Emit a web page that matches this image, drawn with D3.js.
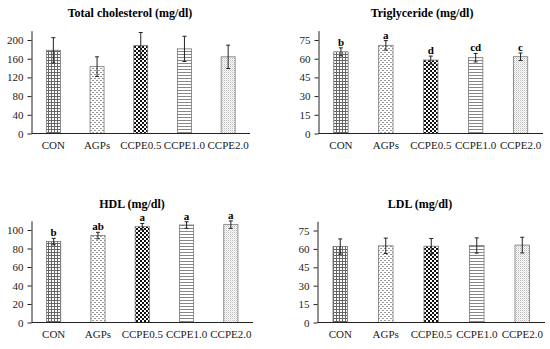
<!DOCTYPE html>
<html>
<head>
<meta charset="utf-8">
<script src="https://cdn.jsdelivr.net/npm/d3@7"></script>
<style>
  body { margin: 0; background: #fff; }
  svg { display: block; }
  svg text { font-family: "Palatino Linotype", "Book Antiqua", "Liberation Serif", serif; }
</style>
</head>
<body>
<svg id="chart" width="550" height="349"></svg>
<script>
// groups on the x axis
const groups = ['CON', 'AGPs', 'CCPE0.5', 'CCPE1.0', 'CCPE2.0']

// mean values and SEM
const tcMean = [178, 143, 188, 181, 164]
const tcErr = [27, 21, 28, 27, 25]
const tgMean = [65.5, 70.7, 58.9, 60.8, 61.6]
const tgErr = [3.2, 3.8, 3.2, 3.4, 3.0]
const tgLetters = ['b', 'a', 'd', 'cd', 'c']
const hdlMean = [87.5, 94, 103.6, 105.4, 105.8]
const hdlErr = [3.5, 3.5, 3.5, 3.5, 4]
const hdlLetters = ['b', 'ab', 'a', 'a', 'a']
const ldlMean = [61.9, 62.5, 62.2, 62.8, 63.1]
const ldlErr = [6.2, 6.3, 6.3, 6.2, 6.4]

// tick labels per panel
const tcTicks = [0, 40, 80, 120, 160, 200]
const tgTicks = [0, 15, 30, 45, 60, 75]
const hdlTicks = [0, 20, 40, 60, 80, 100]
const ldlTicks = [0, 15, 30, 45, 60, 75]

const svg = d3.select('#chart')
const defs = svg.append('defs')
const serif = '"Palatino Linotype", "Book Antiqua", "Liberation Serif", serif'

// fill patterns, one per group
function makePatterns() {
  // small grid
  let p = defs.append('pattern').attr('id', 'pat0').attr('patternUnits', 'userSpaceOnUse')
    .attr('width', 3).attr('height', 3)
  p.append('rect').attr('width', 3).attr('height', 3).attr('fill', '#fff')
  p.append('rect').attr('width', 3).attr('height', 1).attr('fill', '#666')
  p.append('rect').attr('width', 1).attr('height', 3).attr('fill', '#666')

  // sparse dashes
  p = defs.append('pattern').attr('id', 'pat1').attr('patternUnits', 'userSpaceOnUse')
    .attr('width', 4).attr('height', 4)
  p.append('rect').attr('width', 4).attr('height', 4).attr('fill', '#fff')
  p.append('rect').attr('x', 0).attr('y', 0).attr('width', 2).attr('height', 1).attr('fill', '#999')
  p.append('rect').attr('x', 2).attr('y', 2).attr('width', 2).attr('height', 1).attr('fill', '#999')

  // checkerboard
  p = defs.append('pattern').attr('id', 'pat2').attr('patternUnits', 'userSpaceOnUse')
    .attr('width', 4).attr('height', 4)
  p.append('rect').attr('width', 4).attr('height', 4).attr('fill', '#fff')
  p.append('rect').attr('x', 0).attr('y', 0).attr('width', 2).attr('height', 2).attr('fill', '#111')
  p.append('rect').attr('x', 2).attr('y', 2).attr('width', 2).attr('height', 2).attr('fill', '#111')

  // horizontal lines
  p = defs.append('pattern').attr('id', 'pat3').attr('patternUnits', 'userSpaceOnUse')
    .attr('width', 3).attr('height', 3)
  p.append('rect').attr('width', 3).attr('height', 3).attr('fill', '#fff')
  p.append('rect').attr('width', 3).attr('height', 1).attr('fill', '#888')

  // fine dots
  p = defs.append('pattern').attr('id', 'pat4').attr('patternUnits', 'userSpaceOnUse')
    .attr('width', 2).attr('height', 2)
  p.append('rect').attr('width', 2).attr('height', 2).attr('fill', '#fff')
  p.append('rect').attr('width', 1).attr('height', 1).attr('fill', '#bbb')
  p.append('rect').attr('x', 1).attr('y', 1).attr('width', 1).attr('height', 1).attr('fill', '#ddd')
}
makePatterns()

function drawPanel(opt) {
  const g = svg.append('g')
  const x = d3.scaleBand().domain(groups).range([opt.x0, opt.x1]).paddingInner(0.68).paddingOuter(0.34)
  const top = opt.ticks[opt.ticks.length - 1] * 1.1
  const y = d3.scaleLinear().domain([0, top]).range([opt.yBase, opt.yBase - (opt.yBase - opt.yTick) * 1.1])

  // title
  g.append('text')
    .attr('x', opt.titleX).attr('y', opt.titleY)
    .attr('text-anchor', 'middle')
    .style('font-size', '12px').style('font-weight', 'bold')
    .text(opt.title)

  // bars
  g.selectAll('rect.bar')
    .data(opt.mean)
    .enter()
    .append('rect')
    .attr('class', 'bar')
    .attr('x', (d, i) => x(groups[i]))
    .attr('width', x.bandwidth())
    .attr('y', d => y(d))
    .attr('height', d => y(0) - y(d))
    .attr('fill', (d, i) => 'url(#pat' + i + ')')
    .attr('stroke', '#777')
    .attr('stroke-width', 0.8)

  // error bars
  const eb = g.selectAll('g.err')
    .data(opt.mean)
    .enter()
    .append('g')
    .attr('stroke', '#222')
    .attr('stroke-width', 1)
  const cx = (i) => x(groups[i]) + x.bandwidth() / 2
  eb.append('line')
    .attr('x1', (d, i) => cx(i)).attr('x2', (d, i) => cx(i))
    .attr('y1', (d, i) => y(d - opt.err[i])).attr('y2', (d, i) => y(d + opt.err[i]))
  eb.append('line')
    .attr('x1', (d, i) => cx(i) - 2).attr('x2', (d, i) => cx(i) + 2)
    .attr('y1', (d, i) => y(d + opt.err[i])).attr('y2', (d, i) => y(d + opt.err[i]))
  eb.append('line')
    .attr('x1', (d, i) => cx(i) - 2).attr('x2', (d, i) => cx(i) + 2)
    .attr('y1', (d, i) => y(d - opt.err[i])).attr('y2', (d, i) => y(d - opt.err[i]))

  // significance letters
  if (opt.letters) {
    g.selectAll('text.letter')
      .data(opt.letters)
      .enter()
      .append('text')
      .attr('class', 'letter')
      .attr('x', (d, i) => cx(i))
      .attr('y', (d, i) => y(opt.mean[i] + opt.err[i]) - 2)
      .attr('text-anchor', 'middle')
      .style('font-size', '11px').style('font-weight', 'bold')
      .text(d => d)
  }

  // y axis
  const yAxis = d3.axisLeft(y).tickValues(opt.ticks).tickSize(4).tickPadding(4).tickSizeOuter(0)
  const ya = g.append('g').attr('transform', 'translate(' + opt.x0 + ',0)').call(yAxis)
    .attr('font-family', serif).attr('font-size', 11)
  ya.select('.domain').attr('stroke', '#222')
  ya.selectAll('.tick line').attr('stroke', '#222')
  ya.selectAll('text').attr('fill', '#222')

  // x axis
  const xAxis = d3.axisBottom(x).tickSize(0).tickPadding(8)
  const xa = g.append('g').attr('transform', 'translate(0,' + opt.yBase + ')').call(xAxis)
    .attr('font-family', serif).attr('font-size', 11)
  xa.select('.domain').attr('stroke', '#222').attr('d', 'M' + opt.x0 + ',0H' + opt.x1)
  xa.selectAll('text').attr('fill', '#222')
}

drawPanel({ title: 'Total cholesterol (mg/dl)', titleX: 130, titleY: 17, x0: 31.5, x1: 250,
  yBase: 133.5, yTick: 40, ticks: tcTicks, mean: tcMean, err: tcErr })
drawPanel({ title: 'Triglyceride (mg/dl)', titleX: 422, titleY: 17, x0: 318.5, x1: 543,
  yBase: 133.5, yTick: 40, ticks: tgTicks, mean: tgMean, err: tgErr, letters: tgLetters })
drawPanel({ title: 'HDL (mg/dl)', titleX: 132, titleY: 208, x0: 31.5, x1: 253,
  yBase: 322.5, yTick: 230, ticks: hdlTicks, mean: hdlMean, err: hdlErr, letters: hdlLetters })
drawPanel({ title: 'LDL (mg/dl)', titleX: 420, titleY: 208, x0: 317.5, x1: 545,
  yBase: 322.5, yTick: 230.5, ticks: ldlTicks, mean: ldlMean, err: ldlErr })
</script>
</body>
</html>
